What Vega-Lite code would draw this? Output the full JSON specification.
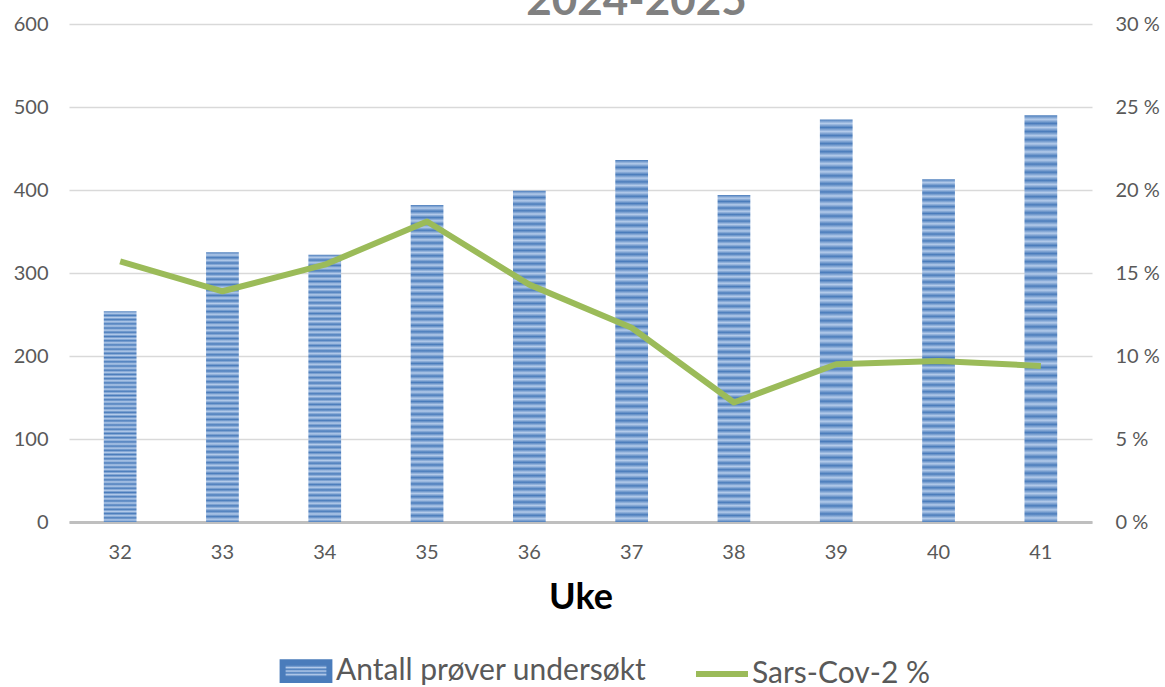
{
  "$schema": "https://vega.github.io/schema/vega-lite/v6.json",
  "width": 1023,
  "height": 498,
  "autosize": "none",
  "padding": {"left": 69, "top": 24, "right": 73, "bottom": 165},
  "background": "white",
  "config": {
    "font": "Lato",
    "view": {"stroke": null},
    "axis": {"labelColor": "#595959", "labelFont": "Lato", "labelFontSize": 20, "ticks": false, "domain": false, "gridColor": "#D9D9D9", "gridWidth": 1.5}
  },
  "title": {
    "text": "2024-2025",
    "fontSize": 44,
    "fontWeight": "bold",
    "color": "#808080",
    "font": "Lato",
    "anchor": "middle",
    "dx": 56,
    "dy": 47,
    "baseline": "alphabetic",
    "offset": 2
  },
  "data": {
    "values": [
      {"uke": "32", "n": 254, "pct": 0.157},
      {"uke": "33", "n": 325, "pct": 0.139},
      {"uke": "34", "n": 322, "pct": 0.155},
      {"uke": "35", "n": 382, "pct": 0.181},
      {"uke": "36", "n": 399, "pct": 0.143},
      {"uke": "37", "n": 436, "pct": 0.117},
      {"uke": "38", "n": 394, "pct": 0.072},
      {"uke": "39", "n": 485, "pct": 0.095},
      {"uke": "40", "n": 413, "pct": 0.097},
      {"uke": "41", "n": 490, "pct": 0.094}
    ]
  },
  "encoding": {
    "x": {
      "field": "uke",
      "type": "ordinal",
      "scale": {"paddingInner": 0.68, "paddingOuter": 0.34},
      "axis": {
        "title": "Uke",
        "titleFont": "Lato",
        "titleFontSize": 36,
        "titleFontWeight": "bold",
        "titleColor": "#000000",
        "titlePadding": 18,
        "labelAngle": 0,
        "labelPadding": 20,
        "domain": true,
        "domainColor": "#BFBFBF",
        "domainWidth": 3,
        "grid": false
      }
    }
  },
  "layer": [
    {
      "mark": {
        "type": "bar",
        "fill": {
          "gradient": "linear", "x1": 0, "y1": 0, "x2": 0, "y2": 1,
          "stops": [
            {"offset": 0, "color": "#4A7CBB"}, {"offset": 0.01, "color": "#B4CBEA"}, {"offset": 0.02, "color": "#4A7CBB"}, {"offset": 0.03, "color": "#B4CBEA"}, {"offset": 0.04, "color": "#4A7CBB"}, {"offset": 0.05, "color": "#B4CBEA"}, {"offset": 0.06, "color": "#4A7CBB"}, {"offset": 0.07, "color": "#B4CBEA"}, {"offset": 0.08, "color": "#4A7CBB"}, {"offset": 0.09, "color": "#B4CBEA"},
            {"offset": 0.10, "color": "#4A7CBB"}, {"offset": 0.11, "color": "#B4CBEA"}, {"offset": 0.12, "color": "#4A7CBB"}, {"offset": 0.13, "color": "#B4CBEA"}, {"offset": 0.14, "color": "#4A7CBB"}, {"offset": 0.15, "color": "#B4CBEA"}, {"offset": 0.16, "color": "#4A7CBB"}, {"offset": 0.17, "color": "#B4CBEA"}, {"offset": 0.18, "color": "#4A7CBB"}, {"offset": 0.19, "color": "#B4CBEA"},
            {"offset": 0.20, "color": "#4A7CBB"}, {"offset": 0.21, "color": "#B4CBEA"}, {"offset": 0.22, "color": "#4A7CBB"}, {"offset": 0.23, "color": "#B4CBEA"}, {"offset": 0.24, "color": "#4A7CBB"}, {"offset": 0.25, "color": "#B4CBEA"}, {"offset": 0.26, "color": "#4A7CBB"}, {"offset": 0.27, "color": "#B4CBEA"}, {"offset": 0.28, "color": "#4A7CBB"}, {"offset": 0.29, "color": "#B4CBEA"},
            {"offset": 0.30, "color": "#4A7CBB"}, {"offset": 0.31, "color": "#B4CBEA"}, {"offset": 0.32, "color": "#4A7CBB"}, {"offset": 0.33, "color": "#B4CBEA"}, {"offset": 0.34, "color": "#4A7CBB"}, {"offset": 0.35, "color": "#B4CBEA"}, {"offset": 0.36, "color": "#4A7CBB"}, {"offset": 0.37, "color": "#B4CBEA"}, {"offset": 0.38, "color": "#4A7CBB"}, {"offset": 0.39, "color": "#B4CBEA"},
            {"offset": 0.40, "color": "#4A7CBB"}, {"offset": 0.41, "color": "#B4CBEA"}, {"offset": 0.42, "color": "#4A7CBB"}, {"offset": 0.43, "color": "#B4CBEA"}, {"offset": 0.44, "color": "#4A7CBB"}, {"offset": 0.45, "color": "#B4CBEA"}, {"offset": 0.46, "color": "#4A7CBB"}, {"offset": 0.47, "color": "#B4CBEA"}, {"offset": 0.48, "color": "#4A7CBB"}, {"offset": 0.49, "color": "#B4CBEA"},
            {"offset": 0.50, "color": "#4A7CBB"}, {"offset": 0.51, "color": "#B4CBEA"}, {"offset": 0.52, "color": "#4A7CBB"}, {"offset": 0.53, "color": "#B4CBEA"}, {"offset": 0.54, "color": "#4A7CBB"}, {"offset": 0.55, "color": "#B4CBEA"}, {"offset": 0.56, "color": "#4A7CBB"}, {"offset": 0.57, "color": "#B4CBEA"}, {"offset": 0.58, "color": "#4A7CBB"}, {"offset": 0.59, "color": "#B4CBEA"},
            {"offset": 0.60, "color": "#4A7CBB"}, {"offset": 0.61, "color": "#B4CBEA"}, {"offset": 0.62, "color": "#4A7CBB"}, {"offset": 0.63, "color": "#B4CBEA"}, {"offset": 0.64, "color": "#4A7CBB"}, {"offset": 0.65, "color": "#B4CBEA"}, {"offset": 0.66, "color": "#4A7CBB"}, {"offset": 0.67, "color": "#B4CBEA"}, {"offset": 0.68, "color": "#4A7CBB"}, {"offset": 0.69, "color": "#B4CBEA"},
            {"offset": 0.70, "color": "#4A7CBB"}, {"offset": 0.71, "color": "#B4CBEA"}, {"offset": 0.72, "color": "#4A7CBB"}, {"offset": 0.73, "color": "#B4CBEA"}, {"offset": 0.74, "color": "#4A7CBB"}, {"offset": 0.75, "color": "#B4CBEA"}, {"offset": 0.76, "color": "#4A7CBB"}, {"offset": 0.77, "color": "#B4CBEA"}, {"offset": 0.78, "color": "#4A7CBB"}, {"offset": 0.79, "color": "#B4CBEA"},
            {"offset": 0.80, "color": "#4A7CBB"}, {"offset": 0.81, "color": "#B4CBEA"}, {"offset": 0.82, "color": "#4A7CBB"}, {"offset": 0.83, "color": "#B4CBEA"}, {"offset": 0.84, "color": "#4A7CBB"}, {"offset": 0.85, "color": "#B4CBEA"}, {"offset": 0.86, "color": "#4A7CBB"}, {"offset": 0.87, "color": "#B4CBEA"}, {"offset": 0.88, "color": "#4A7CBB"}, {"offset": 0.89, "color": "#B4CBEA"},
            {"offset": 0.90, "color": "#4A7CBB"}, {"offset": 0.91, "color": "#B4CBEA"}, {"offset": 0.92, "color": "#4A7CBB"}, {"offset": 0.93, "color": "#B4CBEA"}, {"offset": 0.94, "color": "#4A7CBB"}, {"offset": 0.95, "color": "#B4CBEA"}, {"offset": 0.96, "color": "#4A7CBB"}, {"offset": 0.97, "color": "#B4CBEA"}, {"offset": 0.98, "color": "#4A7CBB"}, {"offset": 0.99, "color": "#B4CBEA"},
            {"offset": 1, "color": "#4A7CBB"}
          ]
        }
      },
      "encoding": {
        "y": {
          "field": "n",
          "type": "quantitative",
          "scale": {"domain": [0, 600]},
          "axis": {"title": null, "values": [0, 100, 200, 300, 400, 500, 600], "labelPadding": 21, "grid": true}
        }
      }
    },
    {
      "mark": {"type": "line", "strokeWidth": 6, "strokeJoin": "round", "strokeCap": "butt"},
      "encoding": {
        "y": {
          "field": "pct",
          "type": "quantitative",
          "scale": {"domain": [0, 0.3]},
          "axis": {"title": null, "orient": "right", "values": [0, 0.05, 0.1, 0.15, 0.2, 0.25, 0.3], "labelExpr": "format(datum.value * 100, '.0f') + ' %'", "labelPadding": 23, "grid": false}
        },
        "color": {
          "datum": "Sars-Cov-2 %",
          "type": "nominal",
          "scale": {"domain": ["Antall prøver undersøkt", "Sars-Cov-2 %"], "range": ["#4A7CBB", "#9BBB59"]},
          "legend": {
            "title": null,
            "orient": "none",
            "direction": "horizontal",
            "legendX": 208,
            "legendY": 618,
            "labelFont": "Lato",
            "labelFontSize": 30,
            "labelColor": "#595959",
            "labelOffset": 1,
            "labelLimit": 0,
            "columnPadding": 37,
            "symbolSize": 2704,
            "symbolStrokeWidth": 6,
            "encode": {
              "symbols": {
                "update": {
                  "shape": {"signal": "datum.value === 'Sars-Cov-2 %' ? 'stroke' : 'M-0.9,-0.34H0.9V0.34H-0.9Z'"},
                  "fill": {"signal": "datum.value === 'Sars-Cov-2 %' ? 'transparent' : {gradient: 'linear', x1: 0, y1: 0, x2: 0, y2: 1, stops: [{offset: 0, color: '#4A7CBB'}, {offset: 0.1, color: '#B4CBEA'}, {offset: 0.2, color: '#4A7CBB'}, {offset: 0.3, color: '#B4CBEA'}, {offset: 0.4, color: '#4A7CBB'}, {offset: 0.5, color: '#B4CBEA'}, {offset: 0.6, color: '#4A7CBB'}, {offset: 0.7, color: '#B4CBEA'}, {offset: 0.8, color: '#4A7CBB'}, {offset: 0.9, color: '#B4CBEA'}, {offset: 1, color: '#4A7CBB'}]}"},
                  "stroke": {"signal": "datum.value === 'Sars-Cov-2 %' ? '#9BBB59' : 'transparent'"},
                  "strokeWidth": {"value": 6},
                  "opacity": {"value": 1}
                }
              }
            }
          }
        }
      }
    }
  ],
  "resolve": {"scale": {"y": "independent"}}
}
